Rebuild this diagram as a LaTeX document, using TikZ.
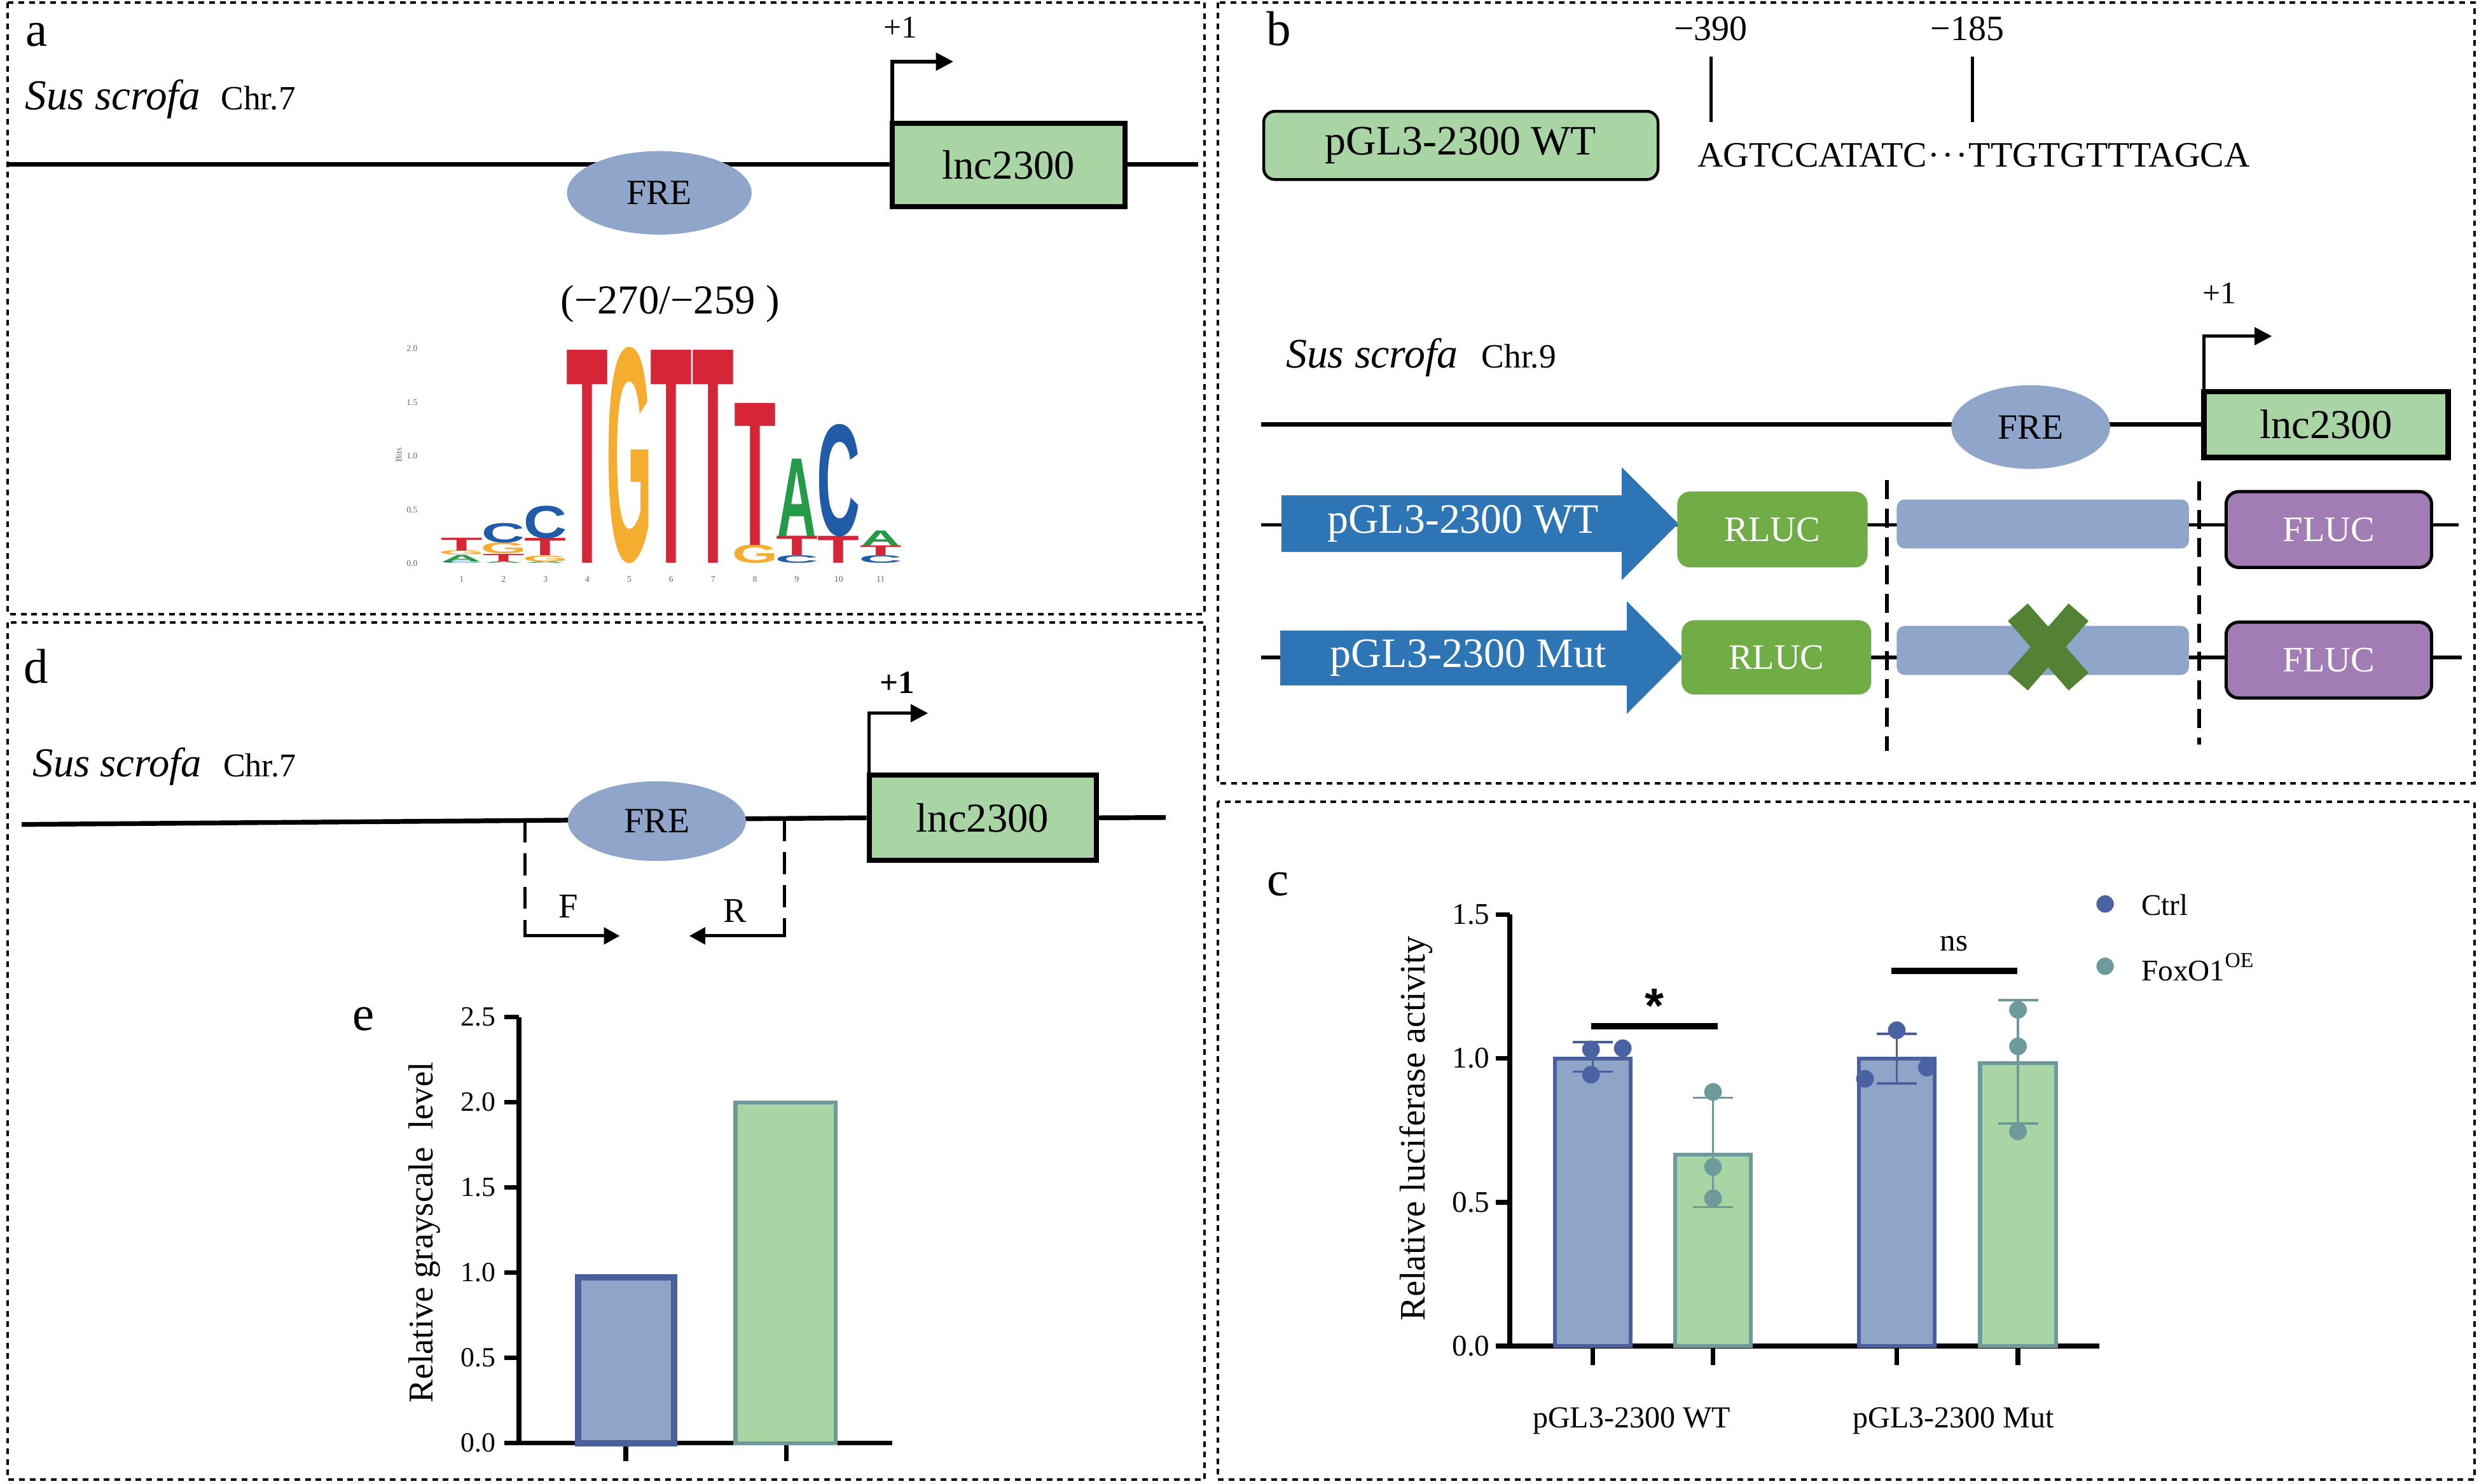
\documentclass[tikz,border=0pt]{standalone}
\usepackage{fontspec}
\setmainfont{Liberation Serif}
\newfontfamily\logofont{Liberation Sans}
\usepackage{graphicx}
\usetikzlibrary{shapes.geometric,arrows.meta}
\definecolor{lncgreen}{HTML}{A9D5A4}
\definecolor{frefill}{HTML}{8FA5C9}
\definecolor{arrowblue}{HTML}{2E75B6}
\definecolor{rlucgreen}{HTML}{70AD47}
\definecolor{flucpurple}{HTML}{A27CB4}
\definecolor{xgreen}{HTML}{548235}
\definecolor{ctrlfill}{HTML}{8FA5C8}
\definecolor{ctrledge}{HTML}{4A5F9C}
\definecolor{foxfill}{HTML}{A9D5A4}
\definecolor{foxedge}{HTML}{6F9A9B}
\definecolor{ctrldot}{HTML}{4B62A2}
\definecolor{foxdot}{HTML}{6E9A9C}
\definecolor{logored}{HTML}{D62536}
\definecolor{logoorange}{HTML}{F5AD2F}
\definecolor{logoblue}{HTML}{1F5BA6}
\definecolor{logogreen}{HTML}{259A47}
\newcommand\myfs[1]{\fontsize{#1pt}{#1pt}\selectfont}
\def\lwT{26.5}\def\lwG{29}\def\lwC{27.4}\def\lwA{24.6}
\newcommand\logoL[6]{%
  \pgfmathsetmacro\lx{292+26.5*(#2-1)}%
  \pgfmathsetmacro\ly{356.5-68*#5}%
  \pgfmathsetmacro\lh{68*#6}%
  \node[inner sep=0, anchor=south, text=#4] (#1) at (\lx,\ly) {\resizebox{\csname lw#3\endcsname pt}{\lh pt}{\logofont\bfseries #3}};}
\begin{document}
\begin{tikzpicture}[x=1pt,y=-1pt,
  frame/.style={line width=1.6pt, dash pattern=on 3.6pt off 3.1pt},
  lab/.style={anchor=base west, inner sep=0, font=\myfs{31}},
  spec/.style={anchor=base west, inner sep=0, font=\myfs{27}\itshape},
  chr/.style={anchor=base west, inner sep=0, font=\myfs{21.5}},
  chrom/.style={line width=3pt},
  genebox/.style={draw, line width=3.2pt, fill=lncgreen, inner sep=0, font=\myfs{26}},
  fre/.style={ellipse, fill=frefill, inner sep=0, font=\myfs{22.5}},
  prom/.style={line width=2.2pt, -{Triangle[length=11pt,width=11pt]}},
  primer/.style={line width=2pt, -{Triangle[length=10pt,width=10.5pt]}},
  primerdash/.style={line width=2pt, dash pattern=on 14pt off 7pt},
  plain/.style={inner sep=0},
  unit/.style={rounded corners=8pt, inner sep=0, text=white, font=\myfs{22.7}},
  vdash/.style={line width=2.5pt, dash pattern=on 12pt off 6pt},
  axis/.style={line width=3pt},
  tick/.style={anchor=east, inner sep=0, font=\myfs{19}},
  tinylab/.style={inner sep=0, text=black!60, font=\myfs{5.5}}
]
\useasboundingbox (0,0) rectangle (1568,938.5);

% ---------- panel frames ----------
\draw[frame] (4.9,1.5) rectangle (762,388.6);
\draw[frame] (770.4,1.5) rectangle (1565,495.7);
\draw[frame] (770.4,507.3) rectangle (1565,936);
\draw[frame] (4.9,393.8) rectangle (762,936);

% ---------- panel a ----------
\node[lab] (la) at (16,29) {a};
\node[spec] (aSp) at (15.7,69.2) {Sus scrofa};
\node[chr] (aChr) at (139.6,69.2) {Chr.7};
\coordinate (aL) at (5,104);
\coordinate (aR) at (758,104);
\draw[chrom] (aL) -- (aR);
\node[genebox, minimum width=147pt, minimum height=52.8pt] (aLnc) at (637.9,104.3) {lnc2300};
\coordinate (aP) at (603,39);
\draw[prom] ([xshift=1.5pt]aLnc.north west) |- (aP);
\node[anchor=base, plain, font=\myfs{20}] (aPlus) at (569.5,24) {+1};
\node[fre, minimum width=116.8pt, minimum height=52.8pt] (aFRE) at (417,122) {FRE};
\node[anchor=base, plain, font=\myfs{26}] (aPos) at (423.8,198.6) {(−270/−259 )};

% sequence logo
\logoL{L1C}{1}{C}{logoblue}{0}{0.016}
\logoL{L1A}{1}{A}{logogreen}{0.016}{0.06}
\logoL{L1G}{1}{G}{logoorange}{0.076}{0.04}
\logoL{L1T}{1}{T}{logored}{0.116}{0.12}
\logoL{L2A}{2}{A}{logogreen}{0}{0.016}
\logoL{L2T}{2}{T}{logored}{0.016}{0.07}
\logoL{L2G}{2}{G}{logoorange}{0.086}{0.10}
\logoL{L2C}{2}{C}{logoblue}{0.186}{0.18}
\logoL{L3A}{3}{A}{logogreen}{0}{0.015}
\logoL{L3G}{3}{G}{logoorange}{0.015}{0.055}
\logoL{L3T}{3}{T}{logored}{0.07}{0.16}
\logoL{L3C}{3}{C}{logoblue}{0.23}{0.30}
\logoL{L4T}{4}{T}{logored}{0}{1.98}
\logoL{L5G}{5}{G}{logoorange}{0}{1.98}
\logoL{L6T}{6}{T}{logored}{0}{1.98}
\logoL{L7T}{7}{T}{logored}{0}{1.98}
\logoL{L8G}{8}{G}{logoorange}{0}{0.17}
\logoL{L8T}{8}{T}{logored}{0.17}{1.32}
\logoL{L9C}{9}{C}{logoblue}{0}{0.07}
\logoL{L9T}{9}{T}{logored}{0.07}{0.18}
\logoL{L9A}{9}{A}{logogreen}{0.25}{0.72}
\logoL{L10T}{10}{T}{logored}{0}{0.25}
\logoL{L10C}{10}{C}{logoblue}{0.25}{1.03}
\logoL{L11C}{11}{C}{logoblue}{0}{0.07}
\logoL{L11T}{11}{T}{logored}{0.07}{0.09}
\logoL{L11A}{11}{A}{logogreen}{0.16}{0.14}
\foreach \v/\k in {0.0/0,0.5/1,1.0/2,1.5/3,2.0/4}
  \node[tinylab] (bt\k) at (260.6,{356.5-68*\k*0.5}) {\v};
\node[tinylab, rotate=90] (bits) at (252.3,287.8) {Bits};
\foreach \i in {1,...,11}
  \node[tinylab] (bn\i) at ({292+26.5*(\i-1)},366.5) {\i};

% ---------- panel b ----------
\node[lab] (lb) at (801,28.8) {b};
\node[anchor=base, plain, font=\myfs{22.5}] (b390) at (1082,25.6) {−390};
\node[anchor=base, plain, font=\myfs{22.5}] (b185) at (1244.3,25.6) {−185};
\coordinate (t390a) at (1082.2,35.8); \coordinate (t390b) at (1082.2,77.4);
\coordinate (t185a) at (1247.5,35.8); \coordinate (t185b) at (1247.5,77.4);
\draw[line width=2.2pt] (t390a) -- (t390b);
\draw[line width=2.2pt] (t185a) -- (t185b);
\node[draw, line width=1.8pt, rounded corners=7pt, fill=lncgreen, inner sep=0,
      minimum width=249.4pt, minimum height=43.1pt, font=\myfs{26.5}] (bWT) at (924,92) {pGL3-2300 WT};
\node[anchor=base west, plain, font=\myfs{22.6}] (bSeq) at (1073.5,105.5)
  {AGTCCATATC\kern0.8pt·\kern1.2pt·\kern1.2pt·\kern0.8pt TTGTGTTTAGCA};
\node[spec, font=\myfs{26.5}\itshape] (bSp) at (813.2,232.8) {Sus scrofa};
\node[chr] (bChr) at (936.9,232.8) {Chr.9};
\coordinate (bL) at (797.8,268.6);
\node[genebox, line width=3.6pt, minimum width=154.6pt, minimum height=41.6pt] (bLnc) at (1471.2,268.6) {lnc2300};
\draw[chrom] (bL) -- (bLnc.west);
\node[fre, minimum width=100.4pt, minimum height=53pt] (bFRE) at (1284.4,270.2) {FRE};
\coordinate (bP) at (1437,212.7);
\draw[prom] ([xshift=2pt]bLnc.north west) |- (bP);
\node[anchor=base, plain, font=\myfs{20}] (bPlus) at (1404,191.9) {+1};

% row 1
\coordinate (r1L) at (797.8,332); \coordinate (r1R) at (1555,332);
\draw[line width=2.2pt] (r1L) -- (r1R);
\fill[arrowblue] (810.5,313.4) -- (1025.8,313.4) -- (1025.8,295.7) -- (1061.6,331.3)
  -- (1025.8,367) -- (1025.8,349.2) -- (810.5,349.2) -- cycle;
\node[plain, text=white, font=\myfs{26.5}] (r1txt) at (925.4,331.3) {pGL3-2300 WT};
\node[unit, fill=rlucgreen, minimum width=120.4pt, minimum height=48pt] (r1R1) at (1121.1,335) {RLUC};
\fill[frefill, rounded corners=5pt] (1199.7,316) rectangle (1384.5,347);
\node[unit, draw=black, line width=2pt, fill=flucpurple, minimum width=130pt, minimum height=48pt] (r1F) at (1473,335) {FLUC};
% row 2
\coordinate (r2L) at (797.8,416); \coordinate (r2R) at (1557,416);
\draw[line width=2.2pt] (r2L) -- (r2R);
\fill[arrowblue] (809.8,398.9) -- (1029,398.9) -- (1029,380.4) -- (1064.5,416)
  -- (1029,451.6) -- (1029,433.7) -- (809.8,433.7) -- cycle;
\node[plain, text=white, font=\myfs{26.5}] (r2txt) at (928.7,416) {pGL3-2300 Mut};
\node[unit, fill=rlucgreen, minimum width=120pt, minimum height=47pt] (r2R1) at (1123.6,415.9) {RLUC};
\fill[frefill, rounded corners=5pt] (1199.7,396) rectangle (1384.5,427);
\draw[xgreen, line width=16.8pt] (1276.3,387.3) -- (1314.7,431.3);
\draw[xgreen, line width=16.8pt] (1314.7,387.3) -- (1276.3,431.3);
\node[unit, draw=black, line width=2pt, fill=flucpurple, minimum width=130pt, minimum height=48pt] (r2F) at (1473,417.6) {FLUC};
% dashed separators
\coordinate (dA1) at (1193.5,303.8); \coordinate (dA2) at (1193.5,474.9);
\coordinate (dB1) at (1391,304.5); \coordinate (dB2) at (1391,471);
\draw[vdash] (dA1) -- (dA2);
\draw[vdash] (dB1) -- (dB2);

% ---------- panel c ----------
\node[lab] (lc) at (801.3,566.4) {c};
\draw[axis] (954.9,578.6) -- (954.9,851.6) -- (1328,851.6);
\foreach \v/\y/\k in {0.0/851.6/0,0.5/760.6/1,1.0/669.6/2,1.5/578.6/3}{
  \draw[axis] (946,\y) -- (954.9,\y);
  \node[tick] (cyt\k) at (942.5,\y) {\v};
}
\foreach \x in {1007.4,1083.5,1199.7,1276.4}
  \draw[axis] (\x,851.6) -- (\x,863.7);
% bars
\draw[fill=ctrlfill, draw=ctrledge, line width=2.5pt] (983.4,851.6) rectangle (1031.4,669.6);
\draw[fill=foxfill, draw=foxedge, line width=2.5pt] (1059.5,851.6) rectangle (1107.5,730.5);
\draw[fill=ctrlfill, draw=ctrledge, line width=2.5pt] (1175.7,851.6) rectangle (1223.7,669.6);
\draw[fill=foxfill, draw=foxedge, line width=2.5pt] (1252.4,851.6) rectangle (1300.4,672.7);
% error bars
\foreach \x/\t/\b/\c in {1007.4/659.2/678.0/ctrledge,1083.5/694.5/763.7/foxedge,1199.7/654/685.4/ctrledge,1276.4/632.7/710.7/foxedge}{
  \draw[\c, line width=1.4pt] (\x,\t) -- (\x,\b);
  \draw[\c, line width=1.4pt] (\x-12.7,\t) -- (\x+12.7,\t);
  \draw[\c, line width=1.4pt] (\x-12.7,\b) -- (\x+12.7,\b);
}
% dots
\foreach \x/\y in {1006.3/663.9,1026.4/663.2,1006.3/679.9,1199.7/651.8,1179.6/682.5,1218.7/675.4}
  \fill[ctrldot] (\x,\y) circle (5.6pt);
\foreach \x/\y in {1083.5/690.8,1083.5/738.3,1083.5/758.1,1276.4/638.9,1276.4/662,1276.4/715.8}
  \fill[foxdot] (\x,\y) circle (5.6pt);
% significance
\coordinate (s1a) at (1006.3,649.3); \coordinate (s1b) at (1086.3,649.3);
\coordinate (s2a) at (1196.2,614.2); \coordinate (s2b) at (1275.9,614.2);
\draw[line width=4.2pt] (s1a) -- (s1b);
\draw[line width=4.2pt] (s2a) -- (s2b);
\node[anchor=base, plain, font=\logofont\bfseries\myfs{31}] (star) at (1046.5,647) {*};
\node[anchor=base, plain, font=\myfs{19.7}] (ns) at (1236,601.6) {ns};
% legend
\fill[ctrldot] (1331.5,571.9) circle (5.5pt);
\fill[foxdot] (1331.5,611.3) circle (5.5pt);
\node[anchor=base west, plain, font=\myfs{19}] (lgC) at (1354.3,579) {Ctrl};
\node[anchor=base west, plain, font=\myfs{19}] (lgF) at (1354.3,620.5) {FoxO1\raisebox{8.5pt}{\myfs{13.5}OE}};
% labels
\node[plain, rotate=90, font=\myfs{22.7}] (cyl) at (895.7,714) {Relative luciferase activity};
\node[anchor=base, plain, font=\myfs{19.3}] (cx1) at (1032,903.2) {pGL3-2300 WT};
\node[anchor=base, plain, font=\myfs{19.3}] (cx2) at (1235.6,903.2) {pGL3-2300 Mut};

% ---------- panel d ----------
\node[lab] (ld) at (14.7,432.2) {d};
\node[spec, font=\myfs{26}\itshape] (dSp) at (20.6,491.5) {Sus scrofa};
\node[chr, font=\myfs{21}] (dChr) at (141,491.5) {Chr.7};
\coordinate (dL) at (13.7,521.6);
\coordinate (dR) at (737.4,517.2);
\node[genebox, minimum width=143.6pt, minimum height=54pt] (dLnc) at (621.5,517.4) {lnc2300};
\draw[chrom] (dL) -- (dLnc.west);
\draw[chrom] (dLnc.east) -- (dR);
\node[fre, minimum width=112.6pt, minimum height=50.4pt] (dFRE) at (415.5,519.5) {FRE};
\coordinate (dP) at (587,451.2);
\draw[prom] ([xshift=1.5pt]dLnc.north west) |- (dP);
\node[anchor=base, plain, font=\myfs{20.5}\bfseries] (dPlus) at (567.3,438.5) {+1};
% primers
\coordinate (fTop) at (332,519); \coordinate (fCorner) at (332,592.1); \coordinate (fEnd) at (392,592.1);
\coordinate (rTop) at (496.3,518); \coordinate (rCorner) at (496.3,592.1); \coordinate (rEnd) at (436,592.1);
\draw[primerdash] (fTop) -- (fCorner);
\draw[primerdash] (rTop) -- (rCorner);
\draw[primer] ([xshift=-1pt]fCorner) -- (fEnd);
\draw[primer] ([xshift=1pt]rCorner) -- (rEnd);
\node[anchor=base, plain, font=\myfs{22}] (dF) at (359.4,580.7) {F};
\node[anchor=base, plain, font=\myfs{22}] (dRlab) at (464.7,583.5) {R};

% ---------- panel e ----------
\node[lab] (le) at (223,651.7) {e};
\draw[axis] (328.3,643.6) -- (328.3,913) -- (564.4,913);
\foreach \v/\k in {0.0/0,0.5/1,1.0/2,1.5/3,2.0/4,2.5/5}{
  \draw[axis] (319,{913-53.9*\k}) -- (328.3,{913-53.9*\k});
  \node[tick, font=\myfs{17.6}] (eyt\k) at (313.6,{913-53.9*\k}) {\v};
}
\draw[axis] (395.9,913) -- (395.9,924.5);
\draw[axis] (497.3,913) -- (497.3,924.5);
\draw[fill=ctrlfill, draw=ctrledge, line width=4pt] (365.5,913) rectangle (426.2,808.2);
\draw[fill=foxfill, draw=foxedge, line width=2.5pt] (465.2,913) rectangle (528.5,697.6);
\node[plain, rotate=90, font=\myfs{22}] (eyl) at (268.5,779.7) {Relative grayscale~~level};
\end{tikzpicture}
\end{document}
